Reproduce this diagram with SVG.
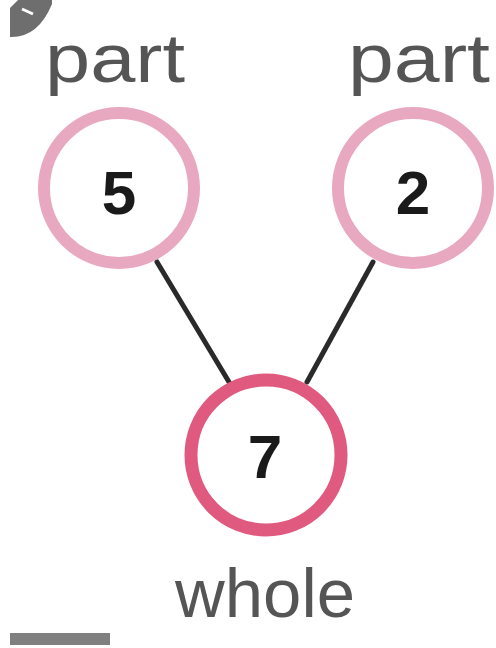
<svg xmlns="http://www.w3.org/2000/svg" width="496" height="648" viewBox="0 0 496 648">
<style>
.lbl{font-family:"Liberation Sans",Arial,sans-serif;font-size:68px;fill:#555555;}
.num{font-family:"Liberation Sans",Arial,sans-serif;font-size:62px;font-weight:bold;fill:#1a1a1a;text-anchor:middle;}
.part{fill:#ffffff;stroke:#e8a8c0;stroke-width:12;}
.whole{fill:#ffffff;stroke:#e05a80;stroke-width:13;}
.edge{stroke:#2a2a2a;stroke-width:5;stroke-linecap:round;fill:none;}
</style>
<rect width="496" height="648" fill="#ffffff"/>
<path d="M10,8 L10,37 Q38,38 52,4 L52,0 L18,0 Z" fill="#6e6e6e"/>
<path d="M22,9 L33,14" stroke="#ffffff" stroke-width="3" fill="none"/>
<rect x="10" y="633" width="100" height="12" fill="#808080"/>
<g id="connectors">
<line class="edge" x1="157" y1="262" x2="229" y2="382"/>
<line class="edge" x1="373" y1="262" x2="307" y2="382"/>
</g>
<g id="node-part-left">
<text class="lbl" x="45" y="82" textLength="140" lengthAdjust="spacingAndGlyphs">part</text>
<circle class="part" cx="119" cy="188" r="75"/>
<text class="num" x="119" y="214">5</text>
</g>
<g id="node-part-right">
<text class="lbl" x="348" y="82" textLength="142" lengthAdjust="spacingAndGlyphs">part</text>
<circle class="part" cx="413" cy="188" r="75"/>
<text class="num" x="413" y="214">2</text>
</g>
<g id="node-whole">
<circle class="whole" cx="266" cy="455" r="75"/>
<text class="num" x="265" y="478">7</text>
<text class="lbl" x="175" y="617" textLength="180" lengthAdjust="spacingAndGlyphs">whole</text>
</g>
</svg>
